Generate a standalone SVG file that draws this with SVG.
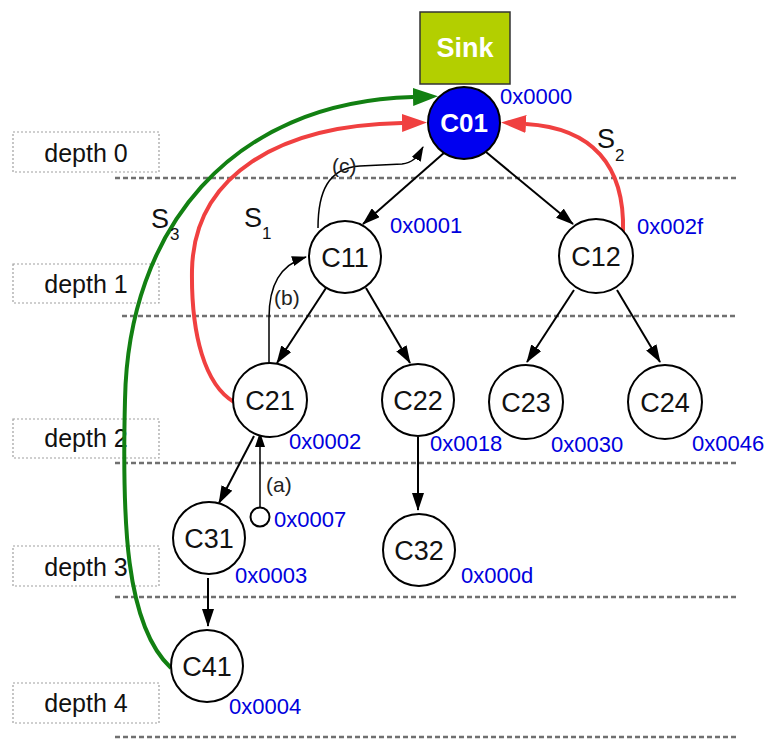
<svg xmlns="http://www.w3.org/2000/svg" width="768" height="739" viewBox="0 0 768 739">
<style>
.lvl{stroke:#707070;stroke-width:2.5;stroke-dasharray:5 3;fill:none}
.dbox{fill:#fff;stroke:#a0a0a0;stroke-width:1.2;stroke-dasharray:2 2}
.dtxt{font-family:"Liberation Sans",Arial,sans-serif;font-size:25px;fill:#111;text-anchor:middle}
.node{fill:#fff;stroke:#000;stroke-width:2}
.ntxt{font-family:"Liberation Sans",Arial,sans-serif;font-size:27px;fill:#111;text-anchor:middle}
.hex{font-family:"Liberation Sans",Arial,sans-serif;font-size:22px;fill:#0000dd}
.lab{font-family:"Liberation Sans",Arial,sans-serif;font-size:21px;fill:#222}
.s{font-family:"Liberation Sans",Arial,sans-serif;font-size:27px;fill:#111}
.sub{font-family:"Liberation Sans",Arial,sans-serif;font-size:17px;fill:#111}
.tree{stroke:#000;stroke-width:2;fill:none;marker-end:url(#ah)}
.thin{stroke:#000;stroke-width:1.5;fill:none;marker-end:url(#ahs)}
</style>
<defs>
<marker id="ah" markerUnits="userSpaceOnUse" markerWidth="18" markerHeight="12" refX="17" refY="6" orient="auto"><path d="M0,0 L18,6 L0,12 z" fill="#000"/></marker>
<marker id="ahs" markerUnits="userSpaceOnUse" markerWidth="15" markerHeight="11" refX="14" refY="5.5" orient="auto"><path d="M0,0.5 L15,5.5 L0,10.5 z" fill="#000"/></marker>
<marker id="ahr" markerUnits="userSpaceOnUse" markerWidth="25" markerHeight="18" refX="0" refY="9" orient="auto"><path d="M0,0 L25,9 L0,18 z" fill="#f04040"/></marker>
<marker id="ahg" markerUnits="userSpaceOnUse" markerWidth="25" markerHeight="18" refX="0" refY="9" orient="auto"><path d="M0,0 L25,9 L0,18 z" fill="#128012"/></marker>
</defs>
<rect width="768" height="739" fill="#fff"/>
<g id="levels">
<line class="lvl" x1="115" y1="178" x2="738" y2="178"/>
<line class="lvl" x1="122" y1="316" x2="738" y2="316"/>
<line class="lvl" x1="115" y1="463" x2="738" y2="463"/>
<line class="lvl" x1="115" y1="597" x2="738" y2="597"/>
<line class="lvl" x1="115" y1="737" x2="738" y2="737"/>
</g>
<g id="depth0"><rect class="dbox" x="13" y="132" width="146" height="40"/><text class="dtxt" x="86" y="162">depth 0</text></g>
<g id="depth1"><rect class="dbox" x="13" y="264" width="146" height="39"/><text class="dtxt" x="86" y="293">depth 1</text></g>
<g id="depth2"><rect class="dbox" x="13" y="419" width="146" height="39"/><text class="dtxt" x="86" y="447">depth 2</text></g>
<g id="depth3"><rect class="dbox" x="13" y="546" width="146" height="40"/><text class="dtxt" x="86" y="576">depth 3</text></g>
<g id="depth4"><rect class="dbox" x="13" y="683" width="146" height="40"/><text class="dtxt" x="86" y="712">depth 4</text></g>
<g id="connectors">
<path class="tree" d="M445 152 L363 224"/>
<path class="tree" d="M486 152 L573 224"/>
<path class="tree" d="M326 288 L277 363"/>
<path class="tree" d="M366 288 L410 363"/>
<path class="tree" d="M574 290 L527 362"/>
<path class="tree" d="M617 290 L660 362"/>
<path class="tree" d="M254 436 L219 503"/>
<path class="tree" d="M418 437 L418 510"/>
<path class="tree" d="M208 578 L208 626"/>
<path class="thin" d="M260 507 L260 433"/>
<path class="thin" d="M269 365 L269 318 C269 285 280 265 306 257"/>
<path class="thin" d="M318 228 C318 192 328 168 360 166 L402 164 C412 163 417 158 423 147"/>
<path d="M234 402 C205 385 191 335 192 270 C194 175 280 125 402 123" fill="none" stroke="#f04040" stroke-width="4" marker-end="url(#ahr)"/>
<path d="M623 232 C625 165 592 128 526 124" fill="none" stroke="#f04040" stroke-width="4" marker-end="url(#ahr)"/>
<path d="M171 668 C125 625 122 520 125 400 C128 230 230 102 413 97" fill="none" stroke="#128012" stroke-width="4" marker-end="url(#ahg)"/>
</g>
<g id="sink"><rect x="420" y="12" width="90" height="72" fill="#b3cf00" stroke="#333" stroke-width="1.5"/><text x="465" y="57" font-family="'Liberation Sans',Arial,sans-serif" font-size="27" font-weight="bold" fill="#fff" text-anchor="middle">Sink</text></g>
<g id="C01"><circle cx="464" cy="123" r="36" fill="#0000f0" stroke="#000" stroke-width="2"/><text x="464" y="132" font-family="'Liberation Sans',Arial,sans-serif" font-size="26" font-weight="bold" fill="#fff" text-anchor="middle">C01</text><text class="hex" x="500" y="104">0x0000</text></g>
<g id="C11"><circle class="node" cx="345" cy="257" r="36"/><text class="ntxt" x="345" y="267">C11</text><text class="hex" x="390" y="233">0x0001</text></g>
<g id="C12"><circle class="node" cx="596" cy="256" r="37"/><text class="ntxt" x="596" y="266">C12</text><text class="hex" x="637" y="234">0x002f</text></g>
<g id="C21"><circle class="node" cx="270" cy="400" r="37"/><text class="ntxt" x="270" y="410">C21</text><text class="hex" x="289" y="449">0x0002</text></g>
<g id="C22"><circle class="node" cx="418" cy="400" r="36"/><text class="ntxt" x="418" y="410">C22</text><text class="hex" x="430" y="451">0x0018</text></g>
<g id="C23"><circle class="node" cx="526" cy="402" r="37"/><text class="ntxt" x="526" y="412">C23</text><text class="hex" x="551" y="452">0x0030</text></g>
<g id="C24"><circle class="node" cx="665" cy="402" r="37"/><text class="ntxt" x="665" y="412">C24</text><text class="hex" x="692" y="451">0x0046</text></g>
<g id="C31"><circle class="node" cx="209" cy="538" r="36"/><text class="ntxt" x="209" y="548">C31</text><text class="hex" x="235" y="583">0x0003</text></g>
<g id="C32"><circle class="node" cx="419" cy="550" r="36"/><text class="ntxt" x="419" y="560">C32</text><text class="hex" x="461" y="583">0x000d</text></g>
<g id="C41"><circle class="node" cx="207" cy="666" r="36"/><text class="ntxt" x="207" y="676">C41</text><text class="hex" x="229" y="714">0x0004</text></g>
<g id="n0007"><circle class="node" cx="260" cy="517" r="9.5" stroke-width="1.5"/><text class="hex" x="274" y="527">0x0007</text></g>
<g id="labels">
<text class="lab" x="266" y="492">(a)</text>
<text class="lab" x="274" y="305">(b)</text>
<text class="lab" x="332" y="173">(c)</text>
<text class="s" x="151" y="228">S</text><text class="sub" x="170" y="240">3</text>
<text class="s" x="244" y="227">S</text><text class="sub" x="262" y="239">1</text>
<text class="s" x="597" y="148">S</text><text class="sub" x="615" y="161">2</text>
</g>
</svg>
